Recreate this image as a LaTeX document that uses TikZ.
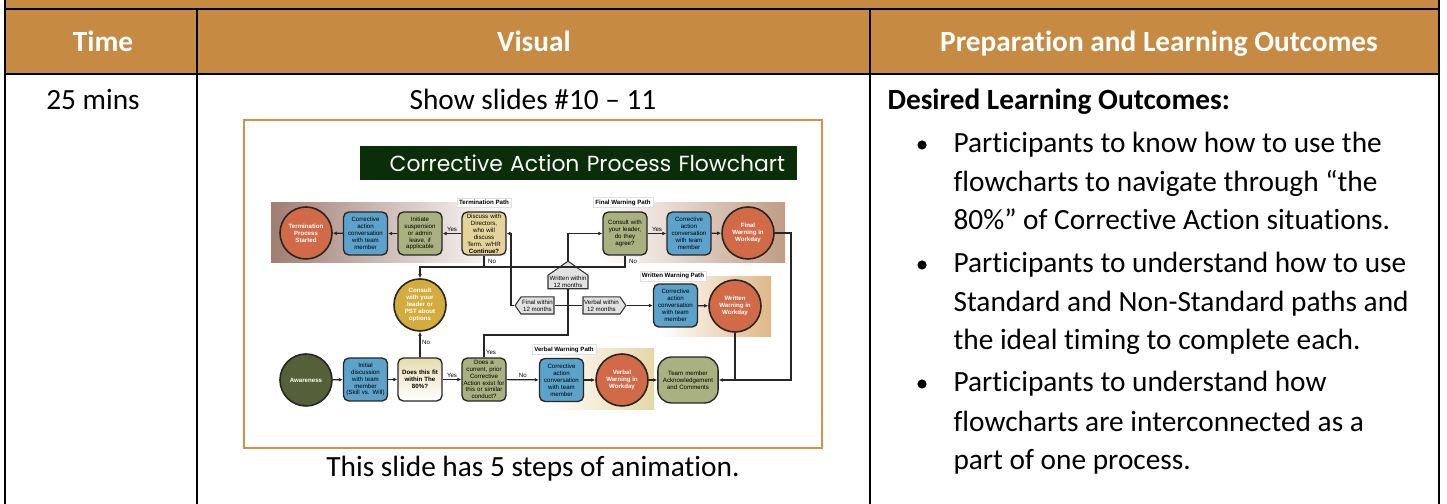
\documentclass[tikz,border=0pt]{standalone}
\usepackage{fontspec}
\setmainfont{Carlito}[Ligatures=NoCommon]
\newfontfamily\flowfont{Liberation Sans}
\newfontfamily\titlefont{Poppins}
\usetikzlibrary{arrows.meta,shapes.symbols}

\definecolor{hdrbrown}{RGB}{198,138,66}
\definecolor{framebrown}{RGB}{212,146,72}
\definecolor{bannergreen}{RGB}{10,46,8}
\definecolor{redcirc}{RGB}{210,106,72}
\definecolor{bluebox}{RGB}{92,162,202}
\definecolor{sagebox}{RGB}{168,177,127}
\definecolor{tanbox}{RGB}{228,212,155}
\definecolor{goldcirc}{RGB}{212,172,62}
\definecolor{olivecirc}{RGB}{86,96,56}
\definecolor{termband}{RGB}{160,126,114}
\definecolor{finalband}{RGB}{192,156,132}
\definecolor{writband}{RGB}{222,184,136}
\definecolor{verbband}{RGB}{230,214,166}
\definecolor{hexgray}{RGB}{226,226,226}
\definecolor{fittop}{RGB}{230,220,176}

\newcommand\flowsize{\fontsize{2.3}{2.6}\selectfont}

\tikzset{
  tiny/.style={font=\flowfont\flowsize},
  tinybold/.style={font=\flowfont\bfseries\flowsize},
  box/.style={tiny, draw=black!85, line width=0.5pt, rounded corners=2pt,
    text width=15.9pt, inner sep=0.3pt, minimum height=16.1pt, align=center},
  circ/.style={tinybold, circle, draw=black!85, line width=0.6pt, minimum size=19.5pt,
    inner sep=0pt, align=center, text=white},
  hexa/.style={tiny, signal, draw=black!80, fill=hexgray, line width=0.4pt,
    inner sep=0.4pt, align=center, signal pointer angle=110},
  tag/.style={tinybold, fill=white, draw=black!12, line width=0.2pt, inner sep=0.8pt},
  lbl/.style={tiny, inner sep=0.6pt},
  flow/.style={line width=0.45pt, draw=black!85},
  >={Latex[length=1.5pt,width=1.4pt]},
  hdr/.style={font=\bfseries\fontsize{11}{13}\selectfont, text=white, anchor=base, inner sep=0pt},
  body/.style={font=\fontsize{11}{13}\selectfont, anchor=base west, inner sep=0pt}
}

\begin{document}
\begin{tikzpicture}[x=0.375pt,y=-0.375pt]
\useasboundingbox (0,0) rectangle (1447,504);

% table
\fill[hdrbrown] (5,0) rectangle (1439,74);
\draw[line width=0.6pt] (5,9) -- (1439,9) (5,74) -- (1439,74);
\draw[line width=0.6pt] (5,0) -- (5,504) (1439,0) -- (1439,504);
\foreach \x in {197,870} \draw[line width=0.6pt] (\x,9) -- (\x,504);

\node[hdr] (time) at (103,52) {Time};
\node[hdr] (visual) at (534,52) {Visual};
\node[hdr] (prep) at (1159,52) {Preparation and Learning Outcomes};

\node[body, anchor=base] (mins) at (93,110) {25 mins};
\node[body, anchor=base] (slides) at (533,110) {Show slides \#10 – 11};
\node[body, anchor=base] (anim) at (533,477) {This slide has 5 steps of animation.};

\node[body, font=\bfseries\fontsize{11}{13}\selectfont] (desired) at (887,110) {Desired Learning Outcomes:};
\foreach \y in {145,265,384} \fill (922,\y) circle[radius=4.6];
\foreach \y/\t in {153/{Participants to know how to use the},
                   192/{flowcharts to navigate through “the},
                   230/{80\%” of Corrective Action situations.},
                   273/{Participants to understand how to use},
                   312/{Standard and Non-Standard paths and},
                   350/{the ideal timing to complete each.},
                   392/{Participants to understand how},
                   432/{flowcharts are interconnected as a},
                   470/{part of one process.}}
  \node[body] at (953,\y) {\t};

% slide
\draw[framebrown, fill=white, line width=1.1pt] (244,120) rectangle (822,448);
\node[fill=bannergreen, text=white, minimum height=12.4pt, text width=154.9pt,
  inner xsep=4.5pt, inner ysep=0pt, align=right, font=\titlefont\fontsize{8.2}{9}\selectfont]
  (title) at (578.5,163) {Corrective Action Process Flowchart};

% path bands
\fill[left color=termband, right color=white] (271,203) rectangle (505,263);
\fill[left color=white, right color=finalband] (600,203) rectangle (785,263);
\fill[left color=white, right color=writband] (660,277) rectangle (771,337);
\fill[left color=white, right color=verbband] (547,349) rectangle (654,410);
\node[tag] (ttag) at (484,202.5) {Termination Path};
\node[tag] (ftag) at (623,202.5) {Final Warning Path};
\node[tag] (wtag) at (673,276) {Written Warning Path};
\node[tag] (vtag) at (564,349.5) {Verbal Warning Path};

% termination path
\node[circ, fill=redcirc] (term) at (306,233) {Termination\\Process\\Started};
\node[box, fill=bluebox] (tcorr) at (365.5,233.5) {Corrective\\action\\conversation\\with team\\member};
\node[box, fill=sagebox] (susp) at (420,233.5) {Initiate\\suspension\\or admin\\leave, if\\applicable};
\node[box, fill=tanbox] (disc) at (484,233.5) {Discuss with\\Directors,\\who will\\discuss\\Term. w/HR\\\textbf{Continue?}};

% final warning path
\node[box, fill=sagebox] (fcons) at (625,233.5) {Consult with\\your leader,\\do they\\agree?};
\node[box, fill=bluebox] (fcorr) at (689,233.5) {Corrective\\action\\conversation\\with team\\member};
\node[circ, fill=redcirc] (fwarn) at (748,233) {Final\\Warning in\\Workday};

% written warning path
\node[box, fill=bluebox] (wcorr) at (675.5,305.5) {Corrective\\action\\conversation\\with team\\member};
\node[circ, fill=redcirc] (wwarn) at (735,306) {Written\\Warning in\\Workday};

% timing checks
\node[hexa, signal to=north, minimum width=15pt, minimum height=7.5pt] (written) at (568,282) {Written within\\12 months};
\node[hexa, signal to=west, minimum width=14.6pt, minimum height=6.4pt] (final) at (537.5,305.5) {Final within\\12 months};
\node[hexa, signal to=east, minimum width=16.1pt, minimum height=6.4pt] (verbal) at (601.5,305.5) {Verbal within\\12 months};
\coordinate (jn) at (568,305.5);
\fill (jn) circle[radius=1.6];

\node[circ, fill=goldcirc] (consult) at (420,305) {Consult\\with your\\leader or\\PST about\\options};

% awareness row
\node[circ, fill=olivecirc] (aware) at (306,380) {Awareness};
\node[box, fill=bluebox] (init) at (365.5,379.5) {Initial\\discussion\\with team\\member\\(Skill vs. Will)};
\node[box, tinybold, top color=fittop, bottom color=white] (fit) at (420,379.5) {Does this fit\\within The\\80\%?};
\node[box, fill=sagebox] (prior) at (484,379.5) {Does a\\current, prior\\Corrective\\Action exist for\\this or similar\\conduct?};

% verbal warning path
\node[box, fill=bluebox] (vcorr) at (561.5,380) {Corrective\\action\\conversation\\with team\\member};
\node[circ, fill=redcirc] (vwarn) at (622,380) {Verbal\\Warning in\\Workday};
\node[box, fill=sagebox, rounded corners=5pt, text width=22pt, minimum height=17.2pt] (ack) at (688,380) {Team member\\Acknowledgement\\and Comments};

% connectors
\coordinate (nojoin) at (420,267);
\coordinate (fturn) at (511,305.5);
\coordinate (yesturn) at (568,335);
\coordinate (rturn) at (791,233);

\draw[flow,->] (disc) -- node[lbl, above] {Yes} (susp);
\draw[flow,->] (susp) -- (tcorr);
\draw[flow,->] (tcorr) -- (term);
\draw[flow,->] (disc.south) |- (nojoin) -- (consult.north);
\draw[flow] (fcons.south) |- (nojoin);
\node[lbl, fill=white] (tno) at (492,261) {No};
\node[lbl, fill=white] (fno) at (633,261) {No};

\draw[flow,->] (fcons) -- node[lbl, above] {Yes} (fcorr);
\draw[flow,->] (fcorr) -- (fwarn);
\draw[flow,->] (fwarn.east) -- (rturn) |- (ack.east);
\draw[flow] (wwarn.south) -- (wwarn.south |- ack.east);

\draw[flow,->] (written.north) |- (fcons.west);
\draw[flow,->] (final.west) -- (fturn) |- (disc.east);
\draw[flow] (final.east) -- (verbal.west);
\draw[flow] (written.south) -- (jn);
\draw[flow,->] (verbal.east) -- (wcorr.west);
\draw[flow,->] (wcorr) -- (wwarn);

\draw[flow,->] (aware) -- (init);
\draw[flow,->] (init) -- (fit);
\draw[flow,->] (fit) -- node[lbl, above] {Yes} (prior);
\draw[flow,->] (fit) -- node[lbl, right, pos=0.6] {No} (consult);
\draw[flow] (prior.north) |- (yesturn) -- (jn);
\node[lbl] (pyes) at (491,352) {Yes};
\draw[flow,->] (prior) -- node[lbl, above] {No} (vcorr);
\draw[flow,->] (vcorr) -- (vwarn);
\draw[flow,->] (vwarn) -- (ack);
\end{tikzpicture}
\end{document}
